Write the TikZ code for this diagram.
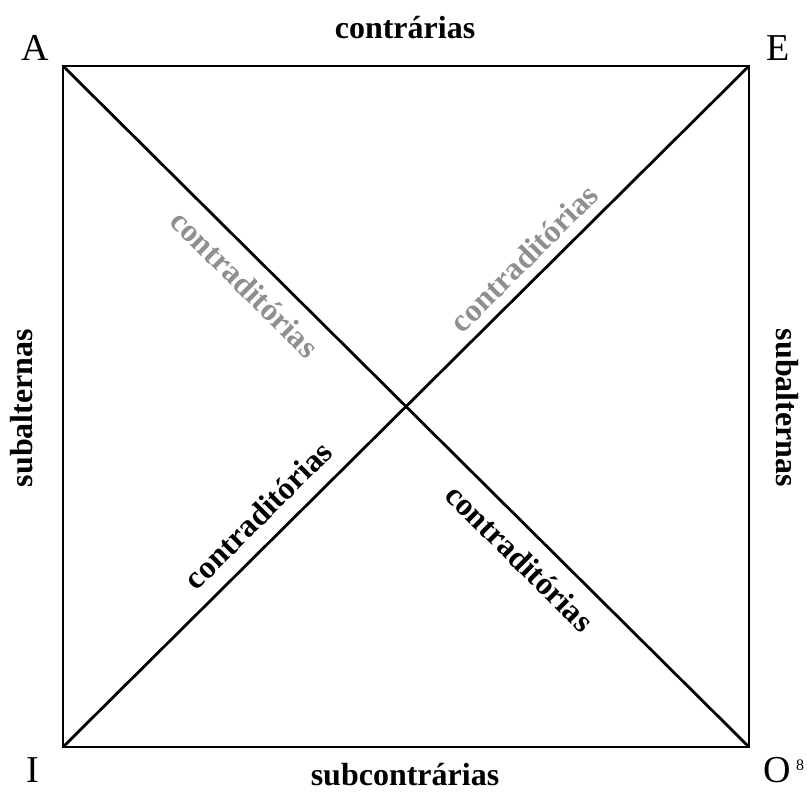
\documentclass[tikz,border=0pt]{standalone}
\usepackage{fontspec}
\setmainfont{Liberation Serif}
\begin{document}
\begin{tikzpicture}[x=1pt,y=-1pt,
  edge/.style={line width=2.8pt, line cap=round, line join=miter},
  lbl/.style={inner sep=0pt, font=\fontsize{32}{38}\selectfont\bfseries},
  corner/.style={inner sep=0pt, font=\fontsize{38}{44}\selectfont},
  faint/.style={text=gray!88}]
\useasboundingbox (0,0) rectangle (807,797);
\coordinate (a) at (63,66);
\coordinate (e) at (749,66);
\coordinate (i) at (63,747);
\coordinate (o) at (749,747);
\draw[edge] (a) -- (e) -- (o) -- (i) -- cycle;
\draw[edge] (a) -- (o);
\draw[edge] (i) -- (e);
\node[corner] (A) at (35,48) {A};
\node[corner] (E) at (778,48) {E};
\node[corner] (I) at (33,770) {I};
\node[corner] (O) at (777,770) {O};
\node[inner sep=0pt, font=\fontsize{16}{18}\selectfont] (fn) at (800,765) {8};
\node[lbl] (top) at (405,28) {contrárias};
\node[lbl] (bot) at (405,775) {subcontrárias};
\node[lbl, rotate=90] (left) at (22,408) {subalternas};
\node[lbl, rotate=-90] (right) at (787,408) {subalternas};
\node[lbl, faint, rotate=-44.8] (ul) at (245,284) {contraditórias};
\node[lbl, faint, rotate=44.8] (ur) at (524,258) {contraditórias};
\node[lbl, rotate=44.8] (ll) at (258,515) {contraditórias};
\node[lbl, rotate=-44.8] (lr) at (520,558) {contraditórias};
\end{tikzpicture}
\end{document}
